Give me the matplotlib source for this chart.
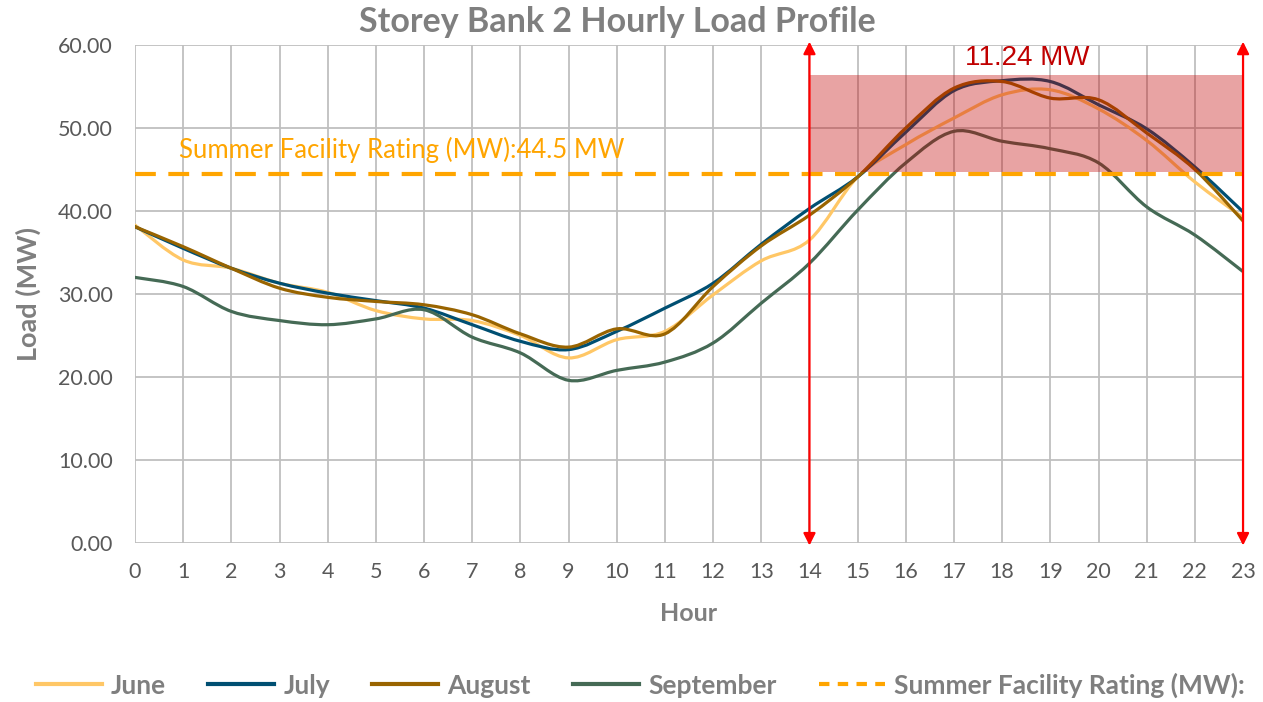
import numpy as np
import matplotlib.pyplot as plt
from matplotlib.path import Path
from matplotlib.patches import PathPatch, Rectangle
from matplotlib.lines import Line2D

plt.rcParams['font.family'] = ['Lato', 'DejaVu Sans']

hours = list(range(24))
june = [38.3, 34.1, 33.1, 31.3, 30.2, 28.0, 27.0, 26.8, 25.0, 22.3, 24.5, 25.5,
        29.9, 34.0, 36.5, 44.1, 48.0, 51.2, 54.0, 54.6, 52.3, 48.5, 43.5, 39.2]
july = [38.1, 35.5, 33.1, 31.3, 30.1, 29.2, 28.3, 26.3, 24.3, 23.3, 25.5, 28.3,
        31.3, 36.0, 40.3, 44.1, 49.5, 54.5, 55.7, 55.6, 52.8, 49.9, 45.3, 39.9]
august = [38.1, 35.7, 33.1, 30.7, 29.6, 29.1, 28.7, 27.5, 25.2, 23.6, 25.8, 25.2,
          30.9, 35.8, 39.5, 44.1, 50.0, 54.8, 55.6, 53.6, 53.4, 49.4, 45.0, 38.8]
september = [32.0, 30.9, 27.9, 26.8, 26.3, 27.0, 28.1, 24.8, 22.9, 19.6, 20.8, 21.8,
             24.1, 28.9, 33.7, 40.1, 45.8, 49.6, 48.4, 47.5, 45.8, 40.5, 37.1, 32.7]
rating = 44.5
exceed = 11.24
peak_window = [14, 23]
band = [44.7, 56.4]

series = [("June", june, "#FFC766"), ("July", july, "#004F72"),
          ("August", august, "#996400"), ("September", september, "#456A55")]


def smooth_path(x, y):
    # Excel-like smoothed line as cubic bezier segments
    pts = np.column_stack([x, y]).astype(float)
    n = len(pts)
    verts = [pts[0]]
    codes = [Path.MOVETO]
    for i in range(n - 1):
        p0 = pts[i - 1] if i > 0 else pts[i]
        p1 = pts[i]
        p2 = pts[i + 1]
        p3 = pts[i + 2] if i + 2 < n else pts[i + 1]
        c1 = p1 + (p2 - p0) / 6.0
        c2 = p2 - (p3 - p1) / 6.0
        verts += [c1, c2, p2]
        codes += [Path.CURVE4] * 3
    return Path(verts, codes)


grey = "#7F7F7F"
fig = plt.figure(figsize=(12.63, 7.02), dpi=100)
ax = fig.add_axes([0.1069, 0.2265, 0.8773, 0.7094])

for name, vals, col in series:
    ax.add_patch(PathPatch(smooth_path(hours, vals), fill=False, edgecolor=col,
                           linewidth=2.3, zorder=3, capstyle='round'))

ax.add_patch(Rectangle((peak_window[0], band[0]), peak_window[1] - peak_window[0],
                       band[1] - band[0], facecolor="#C00000", alpha=0.36,
                       edgecolor='none', zorder=4))

ax.plot([hours[0], hours[-1]], [rating, rating], color="#FFA500", linewidth=3,
        dashes=(5, 3), zorder=5)

for xv in peak_window:
    ax.annotate("", xy=(xv, 60.4), xytext=(xv, -0.3),
                arrowprops=dict(arrowstyle='<|-|>', color='#FF0000', lw=1.6,
                                mutation_scale=18, shrinkA=0, shrinkB=0),
                annotation_clip=False, zorder=6)

ax.text(18.52, 58.4, f"{exceed:.2f} MW", color="#C00000", fontsize=20,
        ha='center', va='center', family=['Liberation Sans', 'DejaVu Sans'], zorder=7)
ax.text(5.54, 47.3, f"Summer Facility Rating (MW):{rating} MW", color="#FFA500",
        fontsize=18.5, ha='center', va='center', zorder=7)

ax.set_xlim(0, 23)
ax.set_ylim(0, 60)
ax.set_xticks(hours)
ax.set_yticks(np.arange(0, 61, 10))
ax.set_yticklabels([f"{v:.2f}" for v in np.arange(0, 61, 10)])
ax.grid(True, color="#BFBFBF", linewidth=1.3, zorder=0)
ax.set_axisbelow(True)
for s in ax.spines.values():
    s.set_visible(False)
ax.tick_params(length=0, labelsize=15.5, labelcolor="#595959")
ax.tick_params(axis='y', pad=16)
ax.tick_params(axis='x', pad=14)

fig.text(0.489, 0.969, "Storey Bank 2 Hourly Load Profile", fontsize=24.5,
         fontweight='bold', color=grey, ha='center', va='center')
ax.set_xlabel("Hour", fontsize=18, fontweight='bold', color=grey, labelpad=14)
ax.set_ylabel("Load (MW)", fontsize=19.5, fontweight='bold', color=grey, labelpad=12)

handles = [Line2D([], [], color=c, linewidth=3) for _, _, c in series]
handles.append(Line2D([], [], color="#FFA500", linewidth=3, dashes=(2.5, 2)))
labels = [n for n, _, _ in series] + ["Summer Facility Rating (MW):"]
leg = fig.legend(handles, labels, loc='center', bbox_to_anchor=(0.507, 0.024), ncol=5,
                 frameon=False, handlelength=2.5, columnspacing=1.6, handletextpad=0.35,
                 prop=dict(size=19, weight='bold'))
for t in leg.get_texts():
    t.set_color(grey)

fig.savefig("out.png", dpi=100)
